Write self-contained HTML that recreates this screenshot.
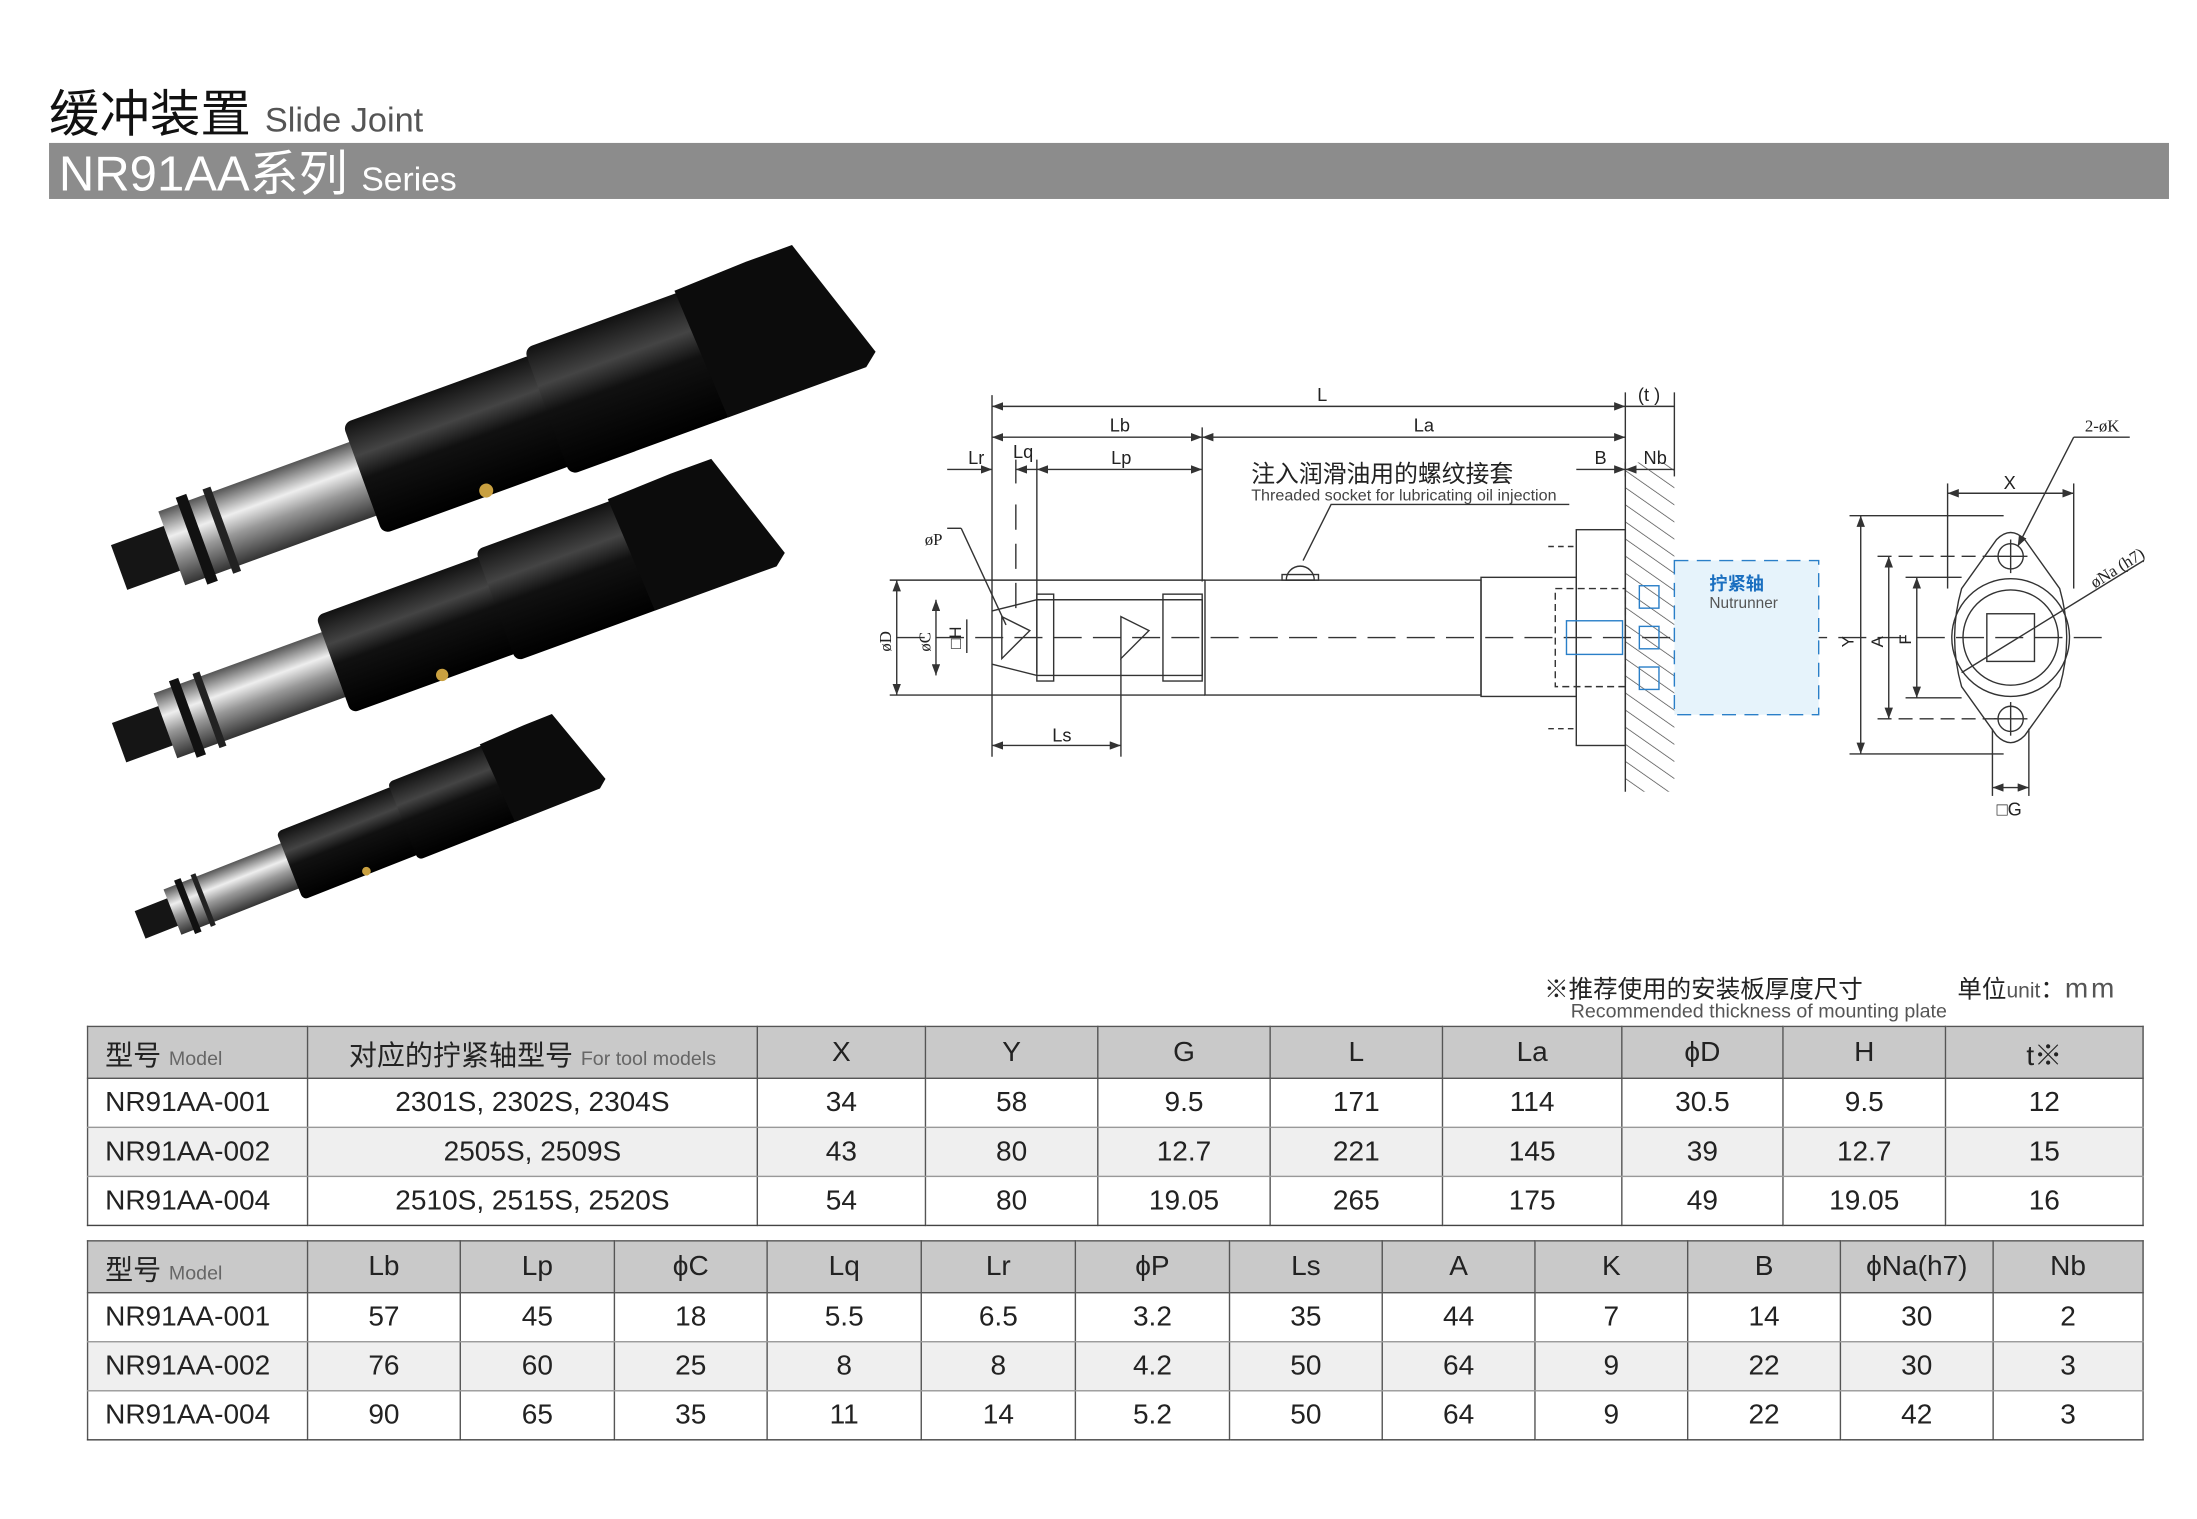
<!DOCTYPE html>
<html><head><meta charset="utf-8">
<style>
html,body{margin:0;padding:0;background:#fff;width:2197px;height:1519px;overflow:hidden}
#w{position:absolute;left:0;top:0;width:1568px;height:1084px;transform:scale(1.40115,1.40129);transform-origin:0 0;font-family:"Liberation Sans","Noto Sans CJK SC",sans-serif;color:#222}
.a{position:absolute;white-space:nowrap}
table{position:absolute;border-collapse:collapse;font-size:20px;table-layout:fixed}
td{border:1px solid #555;border-top:none;border-bottom:1px solid #999;text-align:center;padding:0;height:34px;color:#222}
tr.h td{background:#c9c9c9;height:36px;border-bottom:1px solid #555;border-top:1px solid #555}
tr.g td{background:#efefef}
tr:last-child td{border-bottom:1px solid #444}
td.m{text-align:left;padding-left:12px}
.s{font-size:14px;color:#666}
</style></head><body><div id="w">
<div class="a" style="left:35px;top:53px;font-size:36px;color:#111">缓冲装置 <span style="font-size:24.5px;color:#555">Slide Joint</span></div>
<div class="a" style="left:35px;top:102px;width:1513px;height:40px;background:#8c8c8c"></div>
<div class="a" style="left:42px;top:103px;font-size:35px;line-height:44px;color:#fff">NR91AA系列 <span style="font-size:24px">Series</span></div>

<svg class="a" style="left:0;top:0" width="1568" height="1084" viewBox="0 0 1568 1084">
<defs>
<linearGradient id="sv" x1="0" y1="0" x2="0" y2="1"><stop offset="0" stop-color="#555"/><stop offset=".35" stop-color="#eee"/><stop offset=".6" stop-color="#999"/><stop offset="1" stop-color="#333"/></linearGradient>
<linearGradient id="bk" x1="0" y1="0" x2="0" y2="1"><stop offset="0" stop-color="#111"/><stop offset=".3" stop-color="#444"/><stop offset=".5" stop-color="#111"/><stop offset="1" stop-color="#000"/></linearGradient>
<g id="tool">
<rect x="0" y="-17" width="45" height="34" fill="#151515"/>
<rect x="40" y="-28" width="150" height="56" fill="url(#sv)"/>
<rect x="55" y="-33" width="8" height="66" fill="#111"/>
<rect x="75" y="-32" width="6" height="64" fill="#222"/>
<rect x="185" y="-42" width="145" height="84" rx="6" fill="url(#bk)"/>
<rect x="325" y="-48" width="125" height="96" rx="6" fill="url(#bk)"/>
<path d="M440,-50 L495,-52 L500,-52 L530,-52 L560,40 L550,48 L445,48 Z" fill="#0c0c0c"/>
<circle cx="265" cy="38" r="5" fill="#c9a040"/>
</g>
<pattern id="ht" width="10" height="10" patternUnits="userSpaceOnUse" patternTransform="rotate(-55)"><line x1="0" y1="0" x2="0" y2="10" stroke="#444" stroke-width="1"/></pattern>
<marker id="ar" markerWidth="8" markerHeight="6" refX="8" refY="3" orient="auto"><path d="M0,0 L8,3 L0,6 Z" fill="#333"/></marker>
<marker id="al" markerWidth="8" markerHeight="6" refX="0" refY="3" orient="auto"><path d="M8,0 L0,3 L8,6 Z" fill="#333"/></marker>
</defs>
<use href="#tool" transform="translate(85,405) rotate(-20)"/>
<use href="#tool" transform="translate(85,530) rotate(-20) scale(0.88)"/>
<use href="#tool" transform="translate(100,660) rotate(-21.5) scale(0.62)"/>

<g stroke="#333" stroke-width="1" fill="none" font-family="Liberation Sans" font-size="13">
<line x1="708" y1="290" x2="1160" y2="290" marker-start="url(#al)" marker-end="url(#ar)"/>
<line x1="1160" y1="290" x2="1195" y2="290"/>
<line x1="708" y1="312" x2="858" y2="312" marker-start="url(#al)" marker-end="url(#ar)"/>
<line x1="858" y1="312" x2="1160" y2="312" marker-start="url(#al)" marker-end="url(#ar)"/>
<line x1="676" y1="335" x2="708" y2="335" marker-end="url(#ar)"/>
<line x1="725" y1="335" x2="740" y2="335" marker-start="url(#al)"/>
<line x1="740" y1="335" x2="858" y2="335" marker-start="url(#al)" marker-end="url(#ar)"/>
<line x1="1125" y1="335" x2="1160" y2="335" marker-end="url(#ar)"/>
<line x1="1160" y1="335" x2="1195" y2="335" marker-start="url(#al)"/>
<line x1="708" y1="282" x2="708" y2="540"/><line x1="858" y1="305" x2="858" y2="415"/>
<line x1="1160" y1="280" x2="1160" y2="340"/><line x1="1195" y1="280" x2="1195" y2="340"/>
<line x1="740" y1="328" x2="740" y2="480"/><line x1="725" y1="328" x2="725" y2="345"/>
<line x1="725" y1="360" x2="725" y2="440" stroke-dasharray="18,10"/>
<line x1="708" y1="532" x2="800" y2="532" marker-start="url(#al)" marker-end="url(#ar)"/>
<line x1="800" y1="470" x2="800" y2="540"/>
<line x1="640" y1="455" x2="1500" y2="455" stroke-dasharray="20,8"/>
<path d="M708,436 L740,428 L858,428 L858,482 L740,482 L708,474"/>
<rect x="740" y="424" width="12" height="62"/><rect x="830" y="424" width="28" height="62"/>
<path d="M715,440 L735,450 L715,470 Z"/><path d="M800,440 L820,450 L800,470 Z"/>
<rect x="860" y="414" width="197" height="82"/>
<rect x="1057" y="412" width="68" height="85"/>
<rect x="1125" y="378" width="35" height="154"/>
<path d="M918,414 a10,10 0 0 1 20,0 Z" /><rect x="915" y="410" width="26" height="4"/>
<path d="M930,400 L950,360 L1120,360"/>
<rect x="1160" y="330" width="35" height="235" fill="url(#ht)" stroke="none"/>
<line x1="1160" y1="330" x2="1160" y2="565"/>
<line x1="1105" y1="390" x2="1125" y2="390" stroke-dasharray="4,3"/><line x1="1105" y1="520" x2="1125" y2="520" stroke-dasharray="4,3"/>
<rect x="1110" y="420" width="50" height="70" stroke-dasharray="5,3"/>
<line x1="640" y1="414" x2="640" y2="496" marker-start="url(#al)" marker-end="url(#ar)"/>
<line x1="635" y1="414" x2="860" y2="414"/><line x1="635" y1="496" x2="860" y2="496"/>
<line x1="668" y1="428" x2="668" y2="482" marker-start="url(#al)" marker-end="url(#ar)"/>
<line x1="690" y1="442" x2="690" y2="466"/>
<line x1="676" y1="377" x2="686" y2="377"/><line x1="686" y1="377" x2="718" y2="446"/>
<rect x="1195" y="400" width="103" height="110" fill="#e6f3fb" stroke="#2a7fc8" stroke-dasharray="10,6"/>
<rect x="1170" y="418" width="14" height="16" stroke="#2a7fc8"/><rect x="1170" y="447" width="14" height="16" stroke="#2a7fc8"/><rect x="1170" y="476" width="14" height="16" stroke="#2a7fc8"/>
<rect x="1118" y="443" width="40" height="24" stroke="#2a7fc8"/>
<path d="M1400,420 Q1390,455 1400,490 L1425,525 Q1435,535 1445,525 L1470,490 Q1480,455 1470,420 L1445,385 Q1435,375 1425,385 Z"/>
<circle cx="1435" cy="455" r="42"/><circle cx="1435" cy="455" r="34"/>
<rect x="1418" y="438" width="34" height="34"/>
<circle cx="1435" cy="397" r="9"/><circle cx="1435" cy="513" r="9"/>
<line x1="1435" y1="385" x2="1435" y2="409"/><line x1="1423" y1="397" x2="1447" y2="397"/>
<line x1="1435" y1="501" x2="1435" y2="525"/><line x1="1423" y1="513" x2="1447" y2="513"/>
<line x1="1390" y1="352" x2="1480" y2="352" marker-start="url(#al)" marker-end="url(#ar)"/>
<line x1="1390" y1="345" x2="1390" y2="420"/><line x1="1480" y1="345" x2="1480" y2="420"/>
<line x1="1328" y1="368" x2="1328" y2="538" marker-start="url(#al)" marker-end="url(#ar)"/>
<line x1="1320" y1="368" x2="1430" y2="368"/><line x1="1320" y1="538" x2="1430" y2="538"/>
<line x1="1348" y1="397" x2="1348" y2="513" marker-start="url(#al)" marker-end="url(#ar)"/>
<line x1="1340" y1="397" x2="1425" y2="397" stroke-dasharray="10,5"/><line x1="1340" y1="513" x2="1425" y2="513" stroke-dasharray="10,5"/>
<line x1="1368" y1="412" x2="1368" y2="498" marker-start="url(#al)" marker-end="url(#ar)"/>
<line x1="1360" y1="412" x2="1400" y2="412"/><line x1="1360" y1="498" x2="1400" y2="498"/>
<line x1="1422" y1="562" x2="1448" y2="562" marker-start="url(#al)" marker-end="url(#ar)"/>
<line x1="1422" y1="520" x2="1422" y2="568"/><line x1="1448" y1="520" x2="1448" y2="568"/>
<line x1="1440" y1="390" x2="1480" y2="312" marker-start="url(#al)"/><line x1="1480" y1="312" x2="1520" y2="312"/>
<line x1="1400" y1="480" x2="1530" y2="400"/>
</g>
<g font-family="Liberation Sans" font-size="13" fill="#222">
<text x="940" y="286">L</text><text x="1169" y="286">(t )</text>
<text x="792" y="308">Lb</text><text x="1009" y="308">La</text>
<text x="691" y="331">Lr</text><text x="723" y="327">Lq</text><text x="793" y="331">Lp</text>
<text x="1138" y="331">B</text><text x="1173" y="331">Nb</text>
<text x="751" y="529">Ls</text>
<text x="1430" y="349">X</text><text x="1425" y="582">□G</text>
<text x="1488" y="308" font-family="Liberation Serif" font-size="12">2-øK</text>
<text x="660" y="389" font-family="Liberation Serif" font-size="12">øP</text>
<text transform="translate(636,465) rotate(-90)" font-family="Liberation Serif" font-size="12">øD</text>
<text transform="translate(664,465) rotate(-90)" font-family="Liberation Serif" font-size="12">øC</text>
<text transform="translate(686,463) rotate(-90)" font-size="12">□H</text>
<text transform="translate(1323,462) rotate(-90)" font-size="12">Y</text>
<text transform="translate(1344,462) rotate(-90)" font-size="12">A</text>
<text transform="translate(1364,460) rotate(-90)" font-size="12">F</text>
<text transform="translate(1495,420) rotate(-32)" font-family="Liberation Serif" font-size="12">øNa (h7)</text>
<text x="893" y="344" font-family="Liberation Sans,Noto Sans CJK SC,sans-serif" font-size="17">注入润滑油用的螺纹接套</text>
<text x="893" y="357" font-size="11.5" fill="#444">Threaded socket for lubricating oil injection</text>
<text x="1220" y="421" font-family="Liberation Sans,Noto Sans CJK SC,sans-serif" font-size="13" fill="#1a6fc0" font-weight="bold">拧紧轴</text>
<text x="1220" y="434" font-size="11" fill="#555">Nutrunner</text>
</g>
</svg>

<div class="a" style="left:1102px;top:693px;font-size:17.5px">※推荐使用的安装板厚度尺寸</div>
<div class="a" style="left:1121px;top:713px;font-size:14px;color:#555">Recommended thickness of mounting plate</div>
<div class="a" style="left:1397px;top:693px;font-size:17.5px">单位<span style="font-size:15px;color:#555">unit</span>：<span style="color:#555;font-size:20px;letter-spacing:2px">mm</span></div>

<table style="left:62px;top:732px;width:1467px">
<colgroup><col style="width:157px"><col style="width:321px"><col style="width:120px"><col style="width:123px"><col style="width:123px"><col style="width:123px"><col style="width:128px"><col style="width:115px"><col style="width:116px"><col style="width:141px"></colgroup>
<tr class="h"><td class="m">型号 <span class="s">Model</span></td><td>对应的拧紧轴型号 <span class="s">For tool models</span></td><td>X</td><td>Y</td><td>G</td><td>L</td><td>La</td><td>ϕD</td><td>H</td><td>t※</td></tr>
<tr><td class="m">NR91AA-001</td><td>2301S, 2302S, 2304S</td><td>34</td><td>58</td><td>9.5</td><td>171</td><td>114</td><td>30.5</td><td>9.5</td><td>12</td></tr>
<tr class="g"><td class="m">NR91AA-002</td><td>2505S, 2509S</td><td>43</td><td>80</td><td>12.7</td><td>221</td><td>145</td><td>39</td><td>12.7</td><td>15</td></tr>
<tr><td class="m">NR91AA-004</td><td>2510S, 2515S, 2520S</td><td>54</td><td>80</td><td>19.05</td><td>265</td><td>175</td><td>49</td><td>19.05</td><td>16</td></tr>
</table>

<table style="left:62px;top:885px;width:1467px">
<colgroup><col style="width:157px"><col style="width:109px"><col style="width:110px"><col style="width:109px"><col style="width:110px"><col style="width:110px"><col style="width:110px"><col style="width:109px"><col style="width:109px"><col style="width:109px"><col style="width:109px"><col style="width:109px"><col style="width:107px"></colgroup>
<tr class="h"><td class="m">型号 <span class="s">Model</span></td><td>Lb</td><td>Lp</td><td>ϕC</td><td>Lq</td><td>Lr</td><td>ϕP</td><td>Ls</td><td>A</td><td>K</td><td>B</td><td>ϕNa(h7)</td><td>Nb</td></tr>
<tr><td class="m">NR91AA-001</td><td>57</td><td>45</td><td>18</td><td>5.5</td><td>6.5</td><td>3.2</td><td>35</td><td>44</td><td>7</td><td>14</td><td>30</td><td>2</td></tr>
<tr class="g"><td class="m">NR91AA-002</td><td>76</td><td>60</td><td>25</td><td>8</td><td>8</td><td>4.2</td><td>50</td><td>64</td><td>9</td><td>22</td><td>30</td><td>3</td></tr>
<tr><td class="m">NR91AA-004</td><td>90</td><td>65</td><td>35</td><td>11</td><td>14</td><td>5.2</td><td>50</td><td>64</td><td>9</td><td>22</td><td>42</td><td>3</td></tr>
</table>
</div></body></html>
